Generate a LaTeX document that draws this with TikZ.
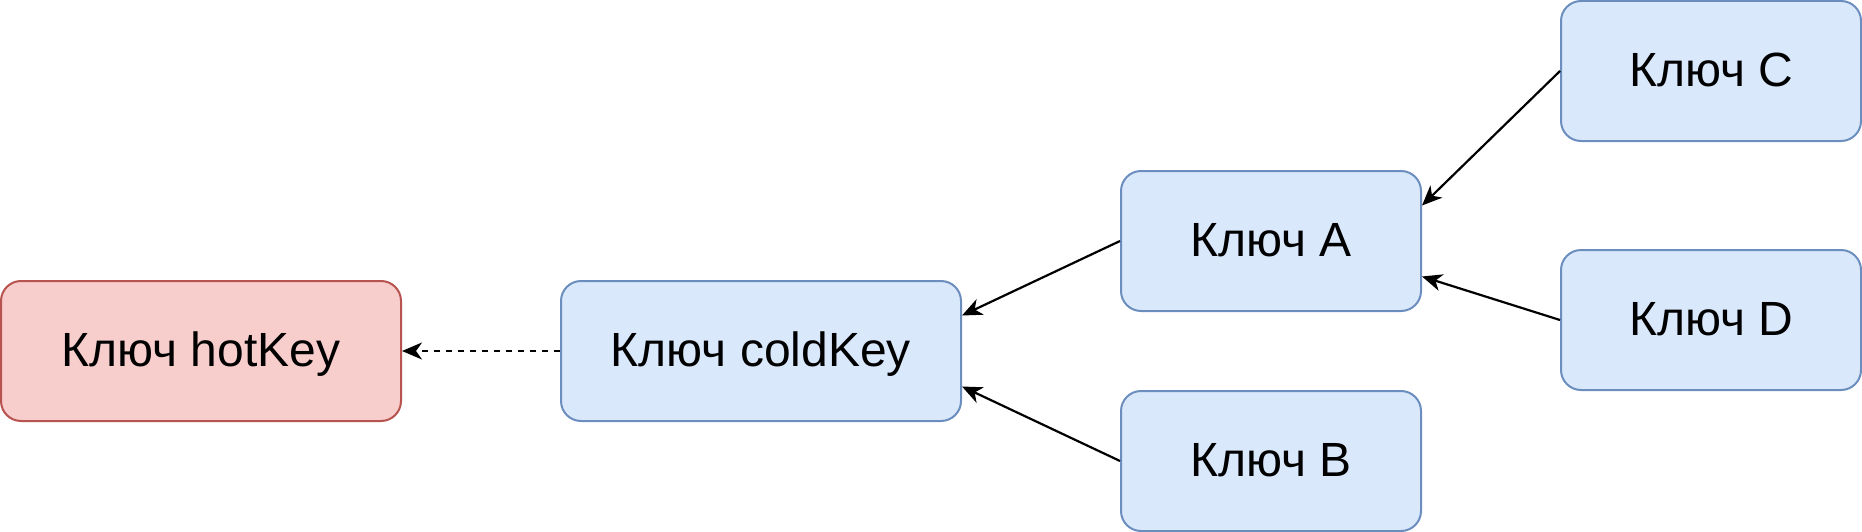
\documentclass[tikz,border=0pt]{standalone}
\usepackage{fontspec}
\setmainfont{Liberation Sans}
\usetikzlibrary{arrows.meta,calc}
\definecolor{bfill}{HTML}{DAE8FC}
\definecolor{bdraw}{HTML}{6C8EBF}
\definecolor{rfill}{HTML}{F8CECC}
\definecolor{rdraw}{HTML}{B85450}
\begin{document}
\begin{tikzpicture}[x=1pt,y=-1pt,
  keybox/.style={draw=bdraw,fill=bfill,line width=2pt,rounded corners=20pt,
    minimum height=140pt,inner sep=0pt,text height=34pt,text depth=3pt,
    font=\fontsize{48}{58}\selectfont},
  hotbox/.style={keybox,draw=rdraw,fill=rfill},
  conn/.style={line width=2.2pt,-{Stealth[length=20pt,width=17pt,inset=6pt]}}]
\useasboundingbox (0,0) rectangle (1862,532);
\node[hotbox,minimum width=400pt] (hot) at (201,351) {Ключ hotKey};
\node[keybox,minimum width=400pt] (cold) at (761,351) {Ключ coldKey};
\node[keybox,minimum width=300pt] (A) at (1271,241) {Ключ A};
\node[keybox,minimum width=300pt] (B) at (1271,461) {Ключ B};
\node[keybox,minimum width=300pt] (C) at (1711,71) {Ключ C};
\node[keybox,minimum width=300pt] (D) at (1711,320) {Ключ D};
\draw[conn] (A.west) -- ($(cold.north east)!0.25!(cold.south east)$);
\draw[conn] (B.west) -- ($(cold.north east)!0.75!(cold.south east)$);
\draw[conn] (C.west) -- ($(A.north east)!0.25!(A.south east)$);
\draw[conn] (D.west) -- ($(A.north east)!0.75!(A.south east)$);
\draw[conn,dash pattern=on 6pt off 6pt] (cold.west) -- (hot.east);
\end{tikzpicture}
\end{document}
